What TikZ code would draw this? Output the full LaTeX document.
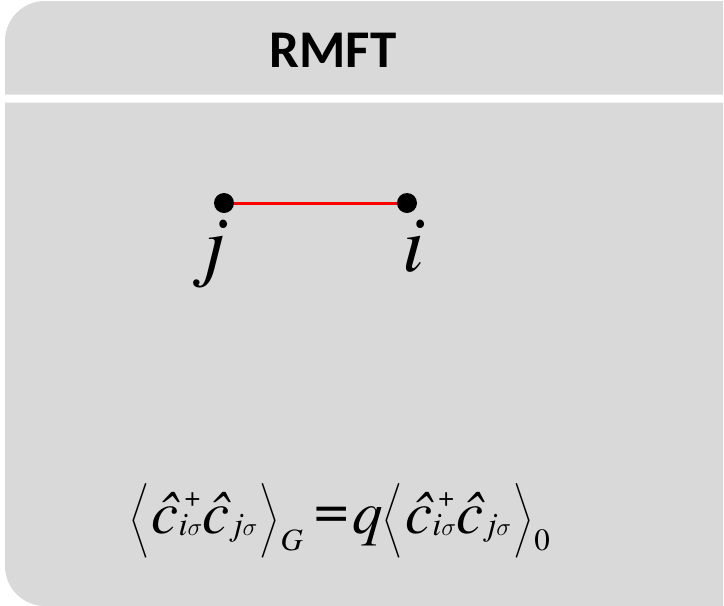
\documentclass[tikz,border=0pt]{standalone}
\usepackage{amsmath}
\usepackage{exscale}
\usepackage{fontspec}
\newfontfamily\titlefont{Carlito}
\newfontfamily\tms{texgyretermes}[Extension=.otf,UprightFont=*-regular,ItalicFont=*-italic,BoldFont=*-bold,BoldItalicFont=*-bolditalic]
\newcommand{\sz}[1]{\fontsize{#1}{#1}\selectfont}
\newcommand{\sig}{$\sigma$}
\newcommand{\lang}{\raisebox{6pt}{$\left\langle\vrule height 50pt depth 20pt width 0pt\right.$}}
\newcommand{\rang}{\raisebox{6pt}{$\left.\vrule height 50pt depth 20pt width 0pt\right\rangle$}}
\newcommand{\corr}{\hspace{1pt}{\itshape ĉ}\rlap{\hspace{6pt}\raisebox{27pt}{\sz{28}+}}\raisebox{-2pt}{\sz{33}\itshape i\sig}{\itshape ĉ}\hspace{4pt}\raisebox{-2pt}{\sz{33}\itshape j\sig}\hspace{1pt}}
\definecolor{panel}{HTML}{D9D9D9}
\tikzset{
  site/.style={circle, fill=black, inner sep=0pt, minimum size=20pt},
  bond/.style={red, line width=3pt},
  sitelabel/.style={anchor=base, inner sep=0pt, font=\tms\itshape\fontsize{80}{90}\selectfont},
  titletext/.style={anchor=base, inner sep=0pt, font=\titlefont\bfseries\fontsize{53}{60}\selectfont},
  formula/.style={anchor=base west, inner sep=0pt, font=\tms\sz{61}}
}
\begin{document}
\begin{tikzpicture}[x=1pt,y=-1pt]
\useasboundingbox (0,0) rectangle (724,606);
\fill[white] (0,0) rectangle (724,606);
% top panel
\fill[panel] (723,94.5) -- (5,94.5) -- (5,41) arc[start angle=180,end angle=270,radius=40] -- (723,1) -- cycle;
% bottom panel
\fill[panel] (723,102.5) -- (5,102.5) -- (5,566) arc[start angle=180,end angle=90,radius=40] -- (723,606) -- cycle;
\node[titletext] (title) at (333,67) {RMFT};
\node[sitelabel] (jl) at (215,271) {j};
\node[sitelabel] (il) at (414,271) {i};
\node[site] (j) at (224,203) {};
\node[site] (i) at (407,203) {};
\draw[bond] (j) -- (i);
\node[formula] (eq) at (129,533) {\lang\corr\rang\hspace{1pt}\raisebox{-17pt}{\sz{31}\itshape G}\hspace{11pt}\raisebox{4pt}{=}\hspace{4pt}{\itshape q}\lang\corr\rang\hspace{1pt}\raisebox{-17pt}{\sz{31}0}};
\end{tikzpicture}
\end{document}
